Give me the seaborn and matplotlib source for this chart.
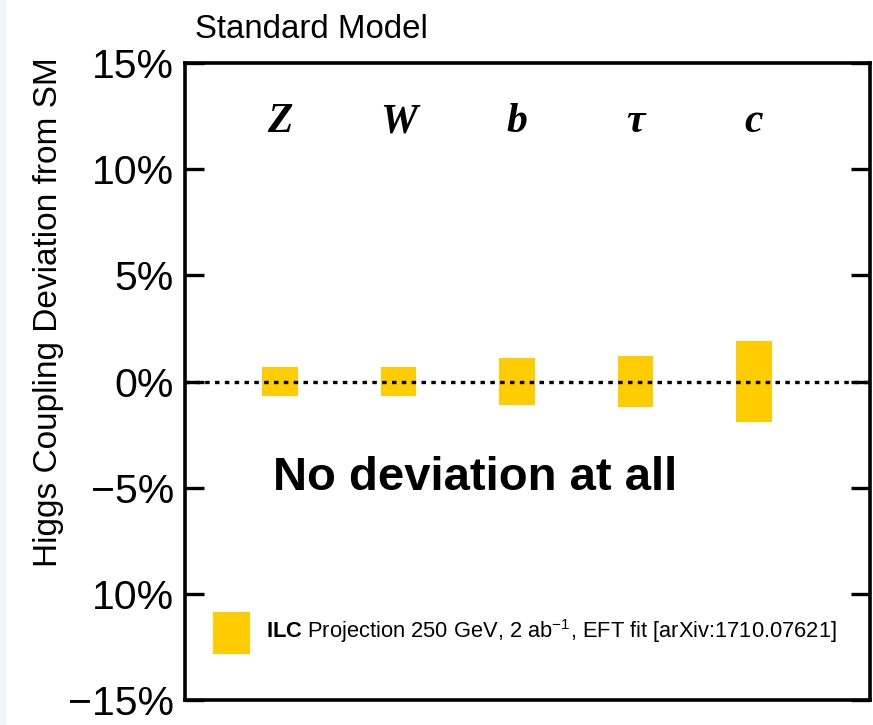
import matplotlib
matplotlib.use("Agg")
import matplotlib.pyplot as plt
from matplotlib.patches import Rectangle
import seaborn as sns
import pandas as pd

# Projected coupling precision (± % around the SM value)
couplings = ["Z", "W", "b", "τ", "c"]
precision = [0.70, 0.70, 1.13, 1.22, 1.93]

y_ticks = [15, 10, 5, 0, -5, -10, -15]
y_tick_labels = ["15%", "10%", "5%", "0%", "−5%", "10%", "−15%"]

bar_color = "#ffcc00"

sns.set_style("white")
plt.rcParams["font.family"] = ["Liberation Sans", "DejaVu Sans"]
plt.rcParams.update({
    "text.color": "black",
    "axes.labelcolor": "black",
    "xtick.color": "black",
    "ytick.color": "black",
    "mathtext.fontset": "custom",
    "mathtext.rm": "Liberation Sans",
    "mathtext.bf": "Liberation Sans:bold",
    "mathtext.it": "Liberation Sans:italic",
})

df = pd.DataFrame({"coupling": couplings, "up": precision,
                   "down": [-p for p in precision]})

fig = plt.figure(figsize=(8.73, 7.25), dpi=100)
ax = fig.add_axes([185 / 873, 1 - 700 / 725, 685 / 873, 637 / 725])

# thin light strip on the left edge of the canvas
fig.patches.append(Rectangle((0, 0), 5 / 873, 1, transform=fig.transFigure,
                             color="#eef6fd", zorder=0))

for col in ("up", "down"):
    sns.barplot(data=df, x="coupling", y=col, color=bar_color, saturation=1,
                width=0.3, linewidth=0, ax=ax, zorder=2)

x0, x1 = -0.804, 4.982
ax.set_xlim(x0, x1)
ax.set_ylim(-15, 15)
ax.set_xticks([])
ax.set_xlabel("")

# SM reference line
ax.axhline(0, color="black", lw=2.4, linestyle=(0, (1.35, 1.6)), zorder=3)

ax.set_yticks(y_ticks)
ax.set_yticklabels(y_tick_labels, fontsize=29.5)
ax.tick_params(axis="y", which="both", direction="in", length=14, width=2.4,
               left=True, right=True, pad=8, colors="black")
for s in ax.spines.values():
    s.set_visible(True)
    s.set_linewidth(2.6)
    s.set_color("black")

ax.set_ylabel("Higgs Coupling Deviation from SM", fontsize=24)
ax.yaxis.set_label_coords(-0.176, 0.609)

# coupling names above the bars
for i, name in enumerate(couplings):
    ax.text(i, 11.75, name, ha="center", va="baseline", fontsize=30,
            family=["Liberation Serif", "DejaVu Serif"], style="italic",
            weight="bold", zorder=4)

ax.text(1.65, -5.11, "No deviation at all", ha="center", va="baseline",
        fontsize=34, weight="bold")

ax.text(0.0146, 1.039, "Standard Model", transform=ax.transAxes,
        ha="left", va="baseline", fontsize=23.8)

# legend entry
px_x, px_y = 118.4, 21.23
ax.add_patch(Rectangle((x0 + 27.7 / px_x, -(654.3 - 381.5) / px_y),
                       37.3 / px_x, 42.6 / px_y, color=bar_color, lw=0))
ax.text(x0 + 81 / px_x, -(638.3 - 381.5) / px_y,
        r"$\mathbf{ILC}$ Projection 250 GeV, 2 ab$^{-1}$, EFT fit [arXiv:1710.07621]",
        ha="left", va="baseline", fontsize=15.75)

fig.savefig("out.png", dpi=100)
